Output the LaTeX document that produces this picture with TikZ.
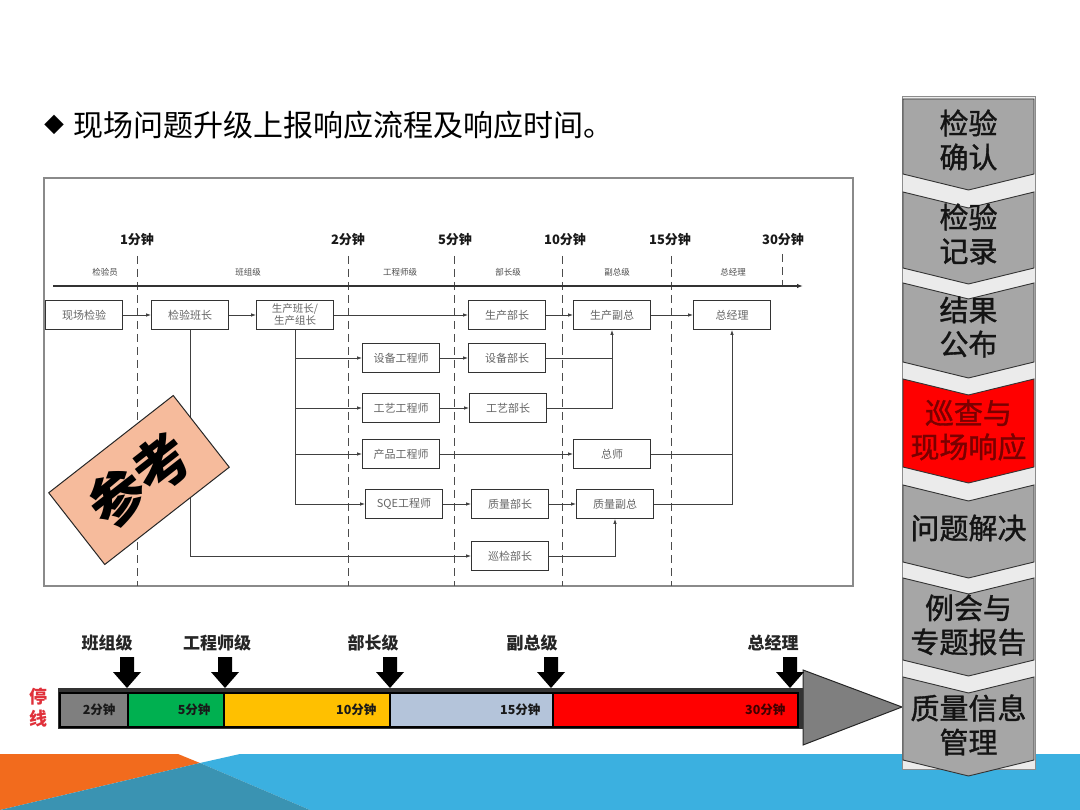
\documentclass[tikz,border=0pt]{standalone}
\usepackage{fontspec}
\setmainfont{Noto Sans CJK SC}
\newfontfamily\semib{Noto Sans CJK SC}[FakeBold=1.2]
\usetikzlibrary{arrows.meta}
\definecolor{framegray}{HTML}{8A8A8A}
\definecolor{bandblue}{HTML}{3BB0E0}
\definecolor{bandorange}{HTML}{F26B1D}
\definecolor{bandteal}{HTML}{3A93B2}
\definecolor{stampfill}{HTML}{F6BB9C}
\definecolor{seggray}{HTML}{7F7F7F}
\definecolor{seggreen}{HTML}{00B050}
\definecolor{segyellow}{HTML}{FFC000}
\definecolor{segblue}{HTML}{B4C4DA}
\definecolor{segred}{HTML}{FF0000}
\definecolor{chevgray}{HTML}{A6A6A6}
\definecolor{chevred}{HTML}{FF0000}
\definecolor{chevredtext}{HTML}{7A0000}
\definecolor{panelbg}{HTML}{EBEBEB}
\definecolor{stopred}{HTML}{E0303A}
\tikzset{
  box/.style={draw=black!80, line width=0.9pt, fill=white, minimum width=77pt, minimum height=29pt, inner sep=0pt, text=black!60, font=\fontsize{11}{12.5}\selectfont},
  conn/.style={draw=black!75, line width=0.9pt},
  arr/.style={conn, -{Latex[length=5pt,width=3.6pt]}},
  tlabel/.style={font=\fontsize{13}{14}\selectfont\bfseries, text=black!90},
  llabel/.style={font=\fontsize{8.5}{9}\selectfont, text=black!70},
  dashline/.style={draw=black!70, line width=1pt, dash pattern=on 8pt off 5pt},
  stamp/.style={draw=black!85, line width=1pt, fill=stampfill, minimum width=158pt, minimum height=91pt, inner sep=0pt, rotate=38, font=\fontsize{56}{56}\selectfont\bfseries},
  barlabel/.style={font=\fontsize{17}{18}\selectfont\bfseries, text=black!85},
  seg/.style={draw=black, line width=1.2pt},
  seglabel/.style={anchor=east, font=\fontsize{12.5}{13}\selectfont\bfseries, text=black!90},
  chev/.style={draw=black!80, line width=0.9pt, fill=chevgray},
  chevtext/.style={align=center, font=\fontsize{29}{34}\selectfont\semib, text=black!92},
  darr/.pic={\fill[black] (-7,0) -- (7,0) -- (7,15) -- (14,15) -- (0,31) -- (-14,15) -- (-7,15) -- cycle;}
}
\begin{document}
\begin{tikzpicture}[x=1pt,y=-1pt]
\useasboundingbox (0,0) rectangle (1080,810);
\fill[white] (0,0) rectangle (1080,810);

% bottom background band
\fill[bandblue] (240,754) -- (1080,754) -- (1080,810) -- (310,810) -- (200,763) -- cycle;
\fill[bandorange] (0,754) -- (178,754) -- (200,763) -- (0,810) -- cycle;
\fill[bandteal] (200,763) -- (310,810) -- (0,810) -- cycle;

% title
\node[anchor=west, font=\fontsize{20}{20}\selectfont, inner sep=0pt] (dia) at (44,125) {◆};
\node[anchor=west, font=\fontsize{30}{31}\selectfont, inner sep=0pt] (title) at (73,125) {现场问题升级上报响应流程及响应时间。};

% flowchart frame
\draw[framegray, line width=1.3pt] (44,178) rectangle (853,586);

% time labels
\node[tlabel] (t1) at (137,240) {1分钟};
\node[tlabel] (t2) at (348,240) {2分钟};
\node[tlabel] (t5) at (455,240) {5分钟};
\node[tlabel] (t10) at (565,240) {10分钟};
\node[tlabel] (t15) at (670,240) {15分钟};
\node[tlabel] (t30) at (783,240) {30分钟};

% dashed time lines
\draw[dashline] (137,256) -- (137,586);
\draw[dashline] (348,256) -- (348,586);
\draw[dashline] (454,256) -- (454,586);
\draw[dashline] (562,256) -- (562,586);
\draw[dashline] (671,256) -- (671,586);
\draw[dashline] (782,254) -- (782,287);

% level labels
\node[llabel] (l1) at (105,272) {检验员};
\node[llabel] (l2) at (248,272) {班组级};
\node[llabel] (l3) at (400,272) {工程师级};
\node[llabel] (l4) at (508,272) {部长级};
\node[llabel] (l5) at (617,272) {副总级};
\node[llabel] (l6) at (733,272) {总经理};

% axis
\draw[draw=black!80, line width=1.4pt, -{Latex[length=6pt,width=4.5pt]}] (53,286) -- (803,286);

% boxes
\node[box] (n1) at (84,315) {现场检验};
\node[box] (n2) at (190,315) {检验班长};
\node[box, align=center, font=\fontsize{10.5}{12}\selectfont] (n3) at (295,315) {生产班长/\\生产组长};
\node[box] (n4) at (507,315) {生产部长};
\node[box] (n5) at (612,315) {生产副总};
\node[box] (n6) at (732,315) {总经理};
\node[box] (e1) at (401,358) {设备工程师};
\node[box] (m1) at (507,358) {设备部长};
\node[box] (e2) at (401,408) {工艺工程师};
\node[box] (m2) at (508,408) {工艺部长};
\node[box] (e3) at (401,454) {产品工程师};
\node[box] (zs) at (612,454) {总师};
\node[box] (e4) at (404,504) {SQE工程师};
\node[box] (m4) at (510,504) {质量部长};
\node[box] (v4) at (615,504) {质量副总};
\node[box] (xj) at (510,556) {巡检部长};

% connectors
\draw[arr] (n1) -- (n2);
\draw[arr] (n2) -- (n3);
\draw[arr] (n3) -- (n4);
\draw[arr] (n4) -- (n5);
\draw[arr] (n5) -- (n6);
\draw[conn] (n3.south) -- (n3.south |- e4);
\draw[arr] (n3.south |- e1) -- (e1);
\draw[arr] (n3.south |- e2) -- (e2);
\draw[arr] (n3.south |- e3) -- (e3);
\draw[arr] (n3.south |- e4) -- (e4);
\draw[arr] (e1) -- (m1);
\draw[arr] (e2) -- (m2);
\draw[arr] (e3) -- (zs);
\draw[arr] (e4) -- (m4);
\draw[arr] (m4) -- (v4);
\draw[arr] (m1) -| (n5.south);
\draw[conn] (m2) -| (n5.south |- m1.east);
\draw[arr] (zs) -| (n6.south);
\draw[conn] (v4) -| (n6.south |- zs.east);
\draw[arr] (n2.south) |- (xj);
\draw[arr] (xj) -| (v4.south);

% stamp
\node[stamp] (ck) at (139,480) {参考};

% bottom bar labels
\node[barlabel] (b1) at (107,643) {班组级};
\node[barlabel] (b2) at (217,643) {工程师级};
\node[barlabel] (b3) at (373,643) {部长级};
\node[barlabel] (b4) at (532,643) {副总级};
\node[barlabel] (b5) at (773,643) {总经理};

% big arrow head
\draw[fill=seggray, draw=black!85, line width=1pt] (803,670) -- (902,707) -- (803,745) -- cycle;

% bar
\fill[black!80] (58,688) rectangle (803,729);
\draw[seg, fill=seggray] (60,693) rectangle (128,727);
\draw[seg, fill=seggreen] (128,693) rectangle (224,727);
\draw[seg, fill=segyellow] (224,693) rectangle (390,727);
\draw[seg, fill=segblue] (390,693) rectangle (553,727);
\draw[seg, fill=segred] (553,693) rectangle (798,727);
\node[seglabel] (s1) at (119,710) {2分钟};
\node[seglabel] (s2) at (214,710) {5分钟};
\node[seglabel] (s3) at (380,710) {10分钟};
\node[seglabel] (s4) at (544,710) {15分钟};
\node[seglabel, text=black!75!red] (s5) at (789,710) {30分钟};

% down arrows
\pic at (127,657) {darr};
\pic at (225,657) {darr};
\pic at (390,657) {darr};
\pic at (551,657) {darr};
\pic at (790,657) {darr};

% stop line label
\node[font=\fontsize{18}{19}\selectfont\bfseries, text=stopred] (st1) at (38,697) {停};
\node[font=\fontsize{18}{19}\selectfont\bfseries, text=stopred] (st2) at (38,719) {线};

% right panel
\draw[fill=panelbg, draw=black!45, line width=1pt] (902,97) rectangle (1035,769);
\draw[chev] (903,99) -- (1034,99) -- (1034,174) -- (968.5,190) -- (903,174) -- cycle;
\foreach \t/\b in {192/268, 283/362, 485/562, 578/660, 677/760} {
  \draw[chev] (903,\t) -- (968.5,\t+16) -- (1034,\t) -- (1034,\b) -- (968.5,\b+16) -- (903,\b) -- cycle;
}
\draw[chev, fill=chevred] (903,379) -- (968.5,395) -- (1034,379) -- (1034,467) -- (968.5,483) -- (903,467) -- cycle;

\node[chevtext] (c1) at (968.5,140) {检验\\确认};
\node[chevtext] (c2) at (968.5,234) {检验\\记录};
\node[chevtext] (c3) at (968.5,327) {结果\\公布};
\node[chevtext, text=chevredtext] (c4) at (968.5,430) {巡查与\\现场响应};
\node[chevtext] (c5) at (968.5,528) {问题解决};
\node[chevtext] (c6) at (968.5,625) {例会与\\专题报告};
\node[chevtext] (c7) at (968.5,725) {质量信息\\管理};
\end{tikzpicture}
\end{document}
